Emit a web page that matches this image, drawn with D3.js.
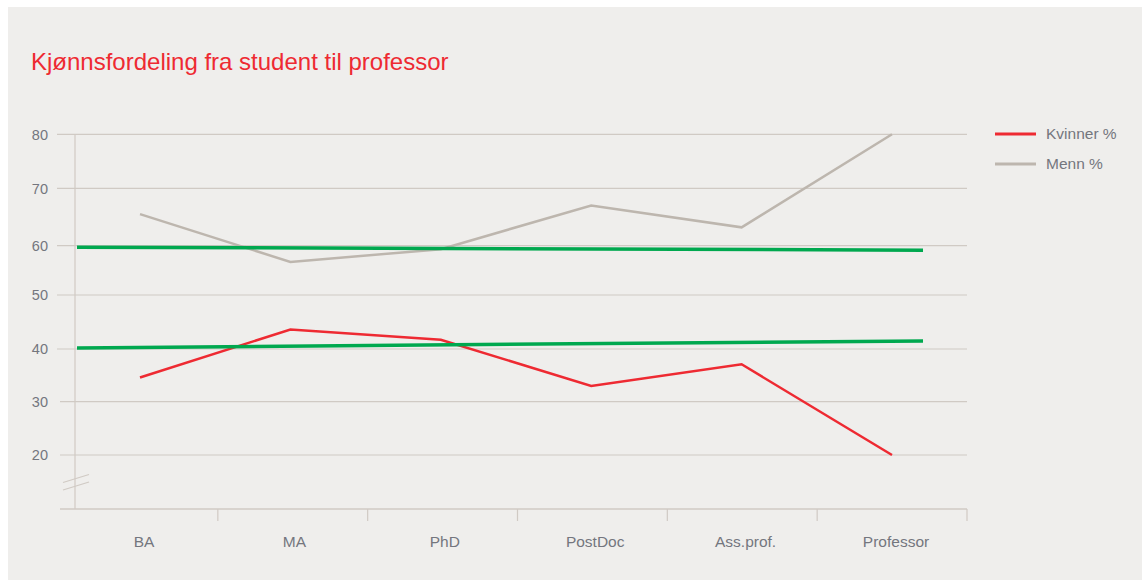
<!DOCTYPE html>
<html>
<head>
<meta charset="utf-8">
<script src="https://cdn.jsdelivr.net/npm/d3@7"></script>
<style>
  html, body { margin: 0; padding: 0; background: #ffffff; }
  svg { display: block; font-family: "Liberation Sans", Arial, sans-serif; }
</style>
</head>
<body>
<div id="chart"></div>
<script>
// Chart data
const categories = ["BA", "MA", "PhD", "PostDoc", "Ass.prof.", "Professor"];
const kvinner = [34.6, 43.6, 41.7, 33.0, 37.1, 20.0];
const menn = [65.5, 56.7, 59.3, 67.0, 63.2, 80.0];
const yTicks = [20, 30, 40, 50, 60, 70, 80];
// green reference lines: value at start, value at end
const greenUpper = [59.7, 59.1];
const greenLower = [40.2, 41.5];

const width = 1142;
const height = 580;

const COLORS = {
    bg: "#efeeec",
    red: "#ee2a32",
    gray: "#bdb6ae",
    green: "#00a84f",
    grid: "#d0cac4",
    text: "#74767e"
};

const svg = d3.select("#chart")
    .append("svg")
    .attr("width", width)
    .attr("height", height);

// panel
svg.append("rect")
    .attr("x", 8)
    .attr("y", 7)
    .attr("width", width - 8)
    .attr("height", height - 7)
    .attr("fill", COLORS.bg);

// Title
svg.append("text")
    .attr("x", 31)
    .attr("y", 70)
    .attr("fill", COLORS.red)
    .attr("font-size", 24)
    .text("Kjønnsfordeling fra student til professor");

// Scales (gridlines in the original are slightly uneven, so piecewise)
const y = d3.scaleLinear()
    .domain([10, 20, 30, 40, 50, 60, 70, 80])
    .range([509, 455, 401.7, 349, 295, 245.7, 188.3, 134.3]);

const xBand = d3.scaleBand()
    .domain(categories)
    .range([68, 967]);

const x = d3.scalePoint()
    .domain(categories)
    .range([140, 892]);

// Gridlines
svg.append("g")
    .selectAll("line")
    .data(yTicks)
    .join("line")
    .attr("x1", d => d >= 40 ? 57 : 60)
    .attr("x2", 967)
    .attr("y1", d => y(d))
    .attr("y2", d => y(d))
    .attr("stroke", COLORS.grid)
    .attr("stroke-width", 1.2);

// Y tick labels
svg.append("g")
    .selectAll("text")
    .data(yTicks)
    .join("text")
    .attr("x", 48)
    .attr("y", d => y(d))
    .attr("dy", "0.36em")
    .attr("text-anchor", "end")
    .attr("font-size", 14.5)
    .attr("fill", COLORS.text)
    .text(d => d);

// Y axis line
svg.append("line")
    .attr("x1", 75).attr("x2", 75)
    .attr("y1", y(80)).attr("y2", y(10))
    .attr("stroke", COLORS.grid)
    .attr("stroke-width", 1.2);

// Axis break marks
[0, 7.5].forEach(off => {
    svg.append("line")
        .attr("x1", 63).attr("y1", 482.5 + off)
        .attr("x2", 89).attr("y2", 474.5 + off)
        .attr("stroke", COLORS.grid)
        .attr("stroke-width", 1.2);
});

// X axis
const xAxis = svg.append("g")
    .attr("transform", `translate(0,${y(10)})`)
    .call(d3.axisBottom(xBand).tickSize(0).tickFormat(""));
xAxis.select(".domain").remove();

xAxis.append("line")
    .attr("x1", 60).attr("x2", 967)
    .attr("stroke", COLORS.grid)
    .attr("stroke-width", 1.5);

xAxis.selectAll("line.band-tick")
    .data(categories)
    .join("line")
    .attr("class", "band-tick")
    .attr("x1", d => xBand(d) + xBand.bandwidth())
    .attr("x2", d => xBand(d) + xBand.bandwidth())
    .attr("y1", 0)
    .attr("y2", 12)
    .attr("stroke", COLORS.grid)
    .attr("stroke-width", 1.2);

svg.append("g")
    .selectAll("text")
    .data(categories)
    .join("text")
    .attr("x", d => x(d) + 4)
    .attr("y", 547)
    .attr("text-anchor", "middle")
    .attr("font-size", 15.5)
    .attr("fill", COLORS.text)
    .text(d => d);

// Lines
const line = d3.line()
    .x((d, i) => x(categories[i]))
    .y(d => y(d));

svg.append("path")
    .datum(menn)
    .attr("d", line)
    .attr("fill", "none")
    .attr("stroke", COLORS.gray)
    .attr("stroke-width", 2.5);

svg.append("path")
    .datum(kvinner)
    .attr("d", line)
    .attr("fill", "none")
    .attr("stroke", COLORS.red)
    .attr("stroke-width", 2.5);

// Green reference lines
const xGreen = d3.scaleLinear().domain([0, 1]).range([77, 923]);
const greenLine = d3.line()
    .x((d, i) => xGreen(i))
    .y(d => y(d));

[greenUpper, greenLower].forEach(g => {
    svg.append("path")
        .datum(g)
        .attr("d", greenLine)
        .attr("fill", "none")
        .attr("stroke", COLORS.green)
        .attr("stroke-width", 3.5);
});

// Legend
const legendItems = [
    { name: "Kvinner %", color: COLORS.red },
    { name: "Menn %", color: COLORS.gray }
];

const legend = svg.append("g")
    .selectAll("g")
    .data(legendItems)
    .join("g")
    .attr("transform", (d, i) => `translate(995,${134 + i * 30})`);

legend.append("line")
    .attr("x1", 0).attr("x2", 41)
    .attr("stroke", d => d.color)
    .attr("stroke-width", 3);

legend.append("text")
    .attr("x", 51)
    .attr("dy", "0.35em")
    .attr("font-size", 15.5)
    .attr("fill", COLORS.text)
    .text(d => d.name);
</script>
</body>
</html>
